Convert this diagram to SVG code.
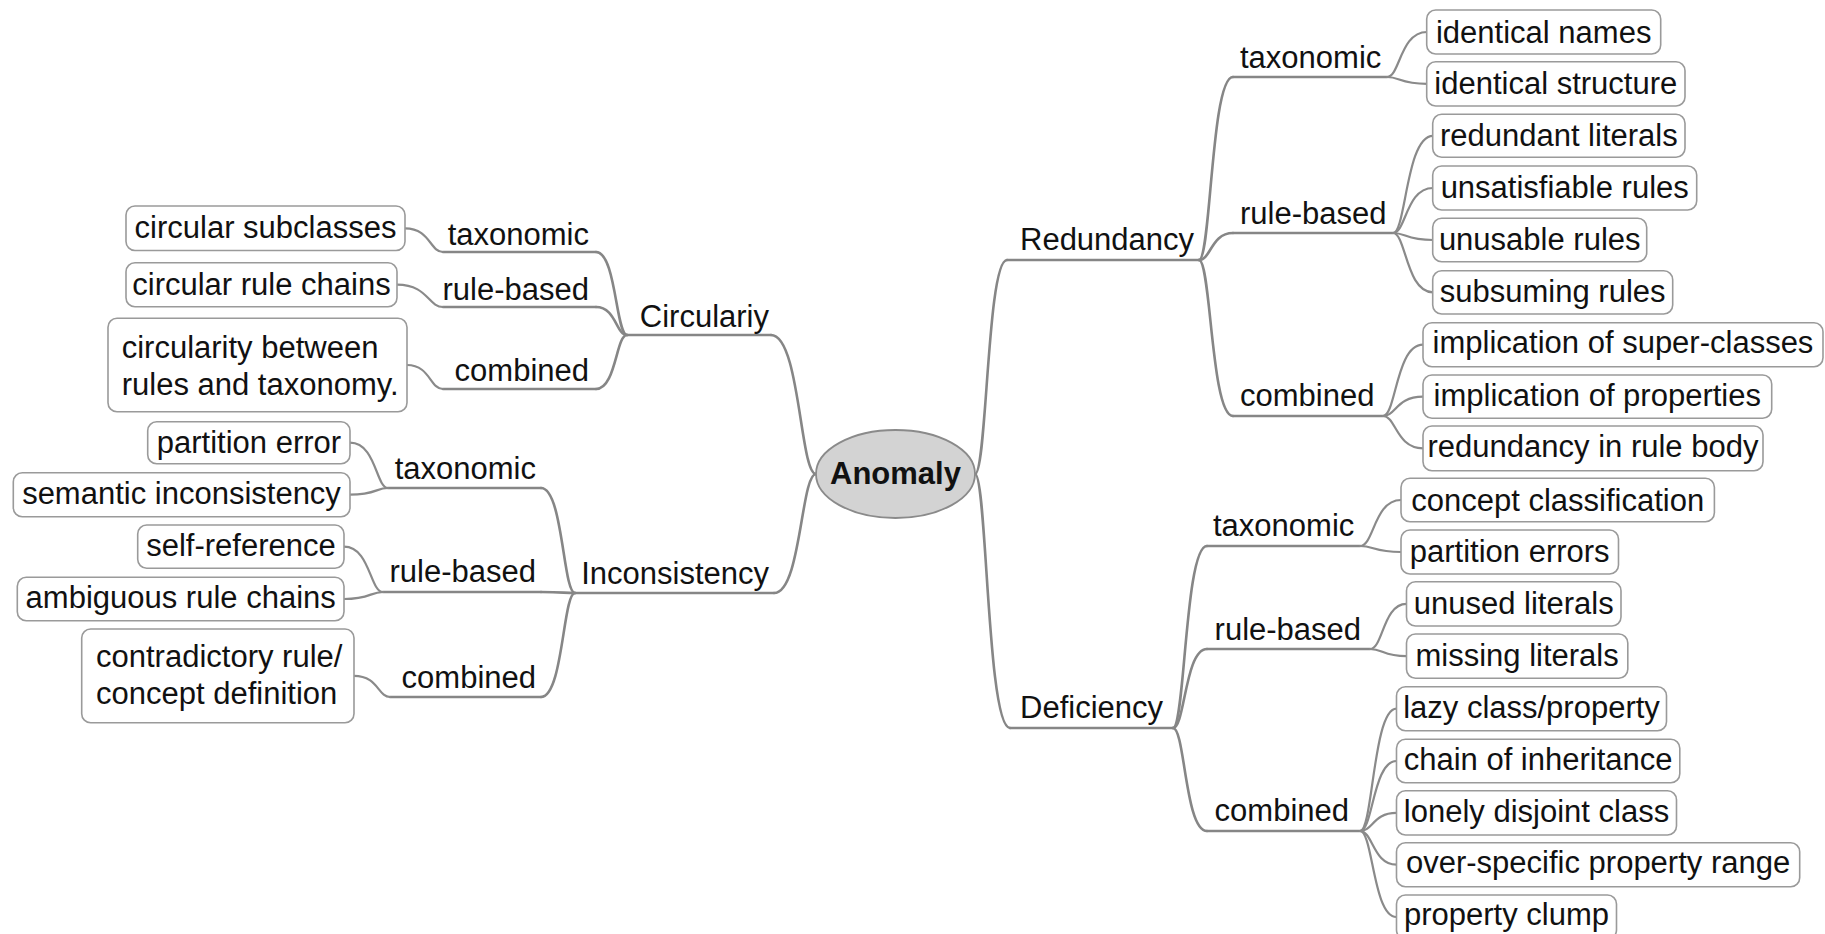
<svg xmlns="http://www.w3.org/2000/svg" width="1825" height="934" viewBox="0 0 1825 934">
<style>
text{font-family:"Liberation Sans",Arial,sans-serif;font-size:31px;fill:#111}
.c{text-anchor:middle}
.e{text-anchor:end}
.box{fill:#fff;stroke:#9a9a9a;stroke-width:1.6}
.ln{fill:none;stroke:#868686;stroke-width:2.6;stroke-linecap:round}
.lk{fill:none;stroke:#8a8a8a;stroke-width:2.2;stroke-linecap:round}
.root{fill:#d3d3d3;stroke:#8a8a8a;stroke-width:1.8}
.b{font-weight:bold}
</style>
<rect width="1825" height="934" fill="#fff"/>
<g id="connectors">
<!-- main -->
<path class="ln" d="M816 474 C800 474,800 335,771 335"/>
<path class="ln" d="M816 474 C801 474,801 593,774 593"/>
<path class="ln" d="M975 474 C987 474,987 260,1007 260"/>
<path class="ln" d="M975 474 C987 474,987 728,1010 728"/>
<!-- level1 underlines -->
<path class="ln" d="M627 335 H771"/>
<path class="ln" d="M575 593 H774"/>
<path class="ln" d="M1007 260 H1199"/>
<path class="ln" d="M1010 728 H1173"/>
<!-- level2 curves -->
<path class="ln" d="M627 335 C616 335,616 252,596 252"/>
<path class="ln" d="M627 335 C616 335,616 307,596 307"/>
<path class="ln" d="M627 335 C616 335,616 389,596 389"/>
<path class="ln" d="M575 593 C563 593,563 488,541 488"/>
<path class="ln" d="M575 593 C563 593,563 592,541 592"/>
<path class="ln" d="M575 593 C563 593,563 697,541 697"/>
<path class="ln" d="M1199 260 C1211 260,1211 77,1233 77"/>
<path class="ln" d="M1199 260 C1211 260,1211 233,1233 233"/>
<path class="ln" d="M1199 260 C1211 260,1211 416,1233 416"/>
<path class="ln" d="M1173 728 C1185 728,1185 546,1207 546"/>
<path class="ln" d="M1173 728 C1185 728,1185 649,1207 649"/>
<path class="ln" d="M1173 728 C1185 728,1185 831,1207 831"/>
<!-- level2 underlines -->
<path class="ln" d="M443 252 H596"/>
<path class="ln" d="M443 307 H596"/>
<path class="ln" d="M443 389 H596"/>
<path class="ln" d="M388 488 H541"/>
<path class="ln" d="M383 592 H541"/>
<path class="ln" d="M390 697 H541"/>
<path class="ln" d="M1233 77 H1387"/>
<path class="ln" d="M1233 233 H1393"/>
<path class="ln" d="M1233 416 H1383"/>
<path class="ln" d="M1207 546 H1360"/>
<path class="ln" d="M1207 649 H1370"/>
<path class="ln" d="M1207 831 H1360"/>
<!-- leaf links left -->
<path class="lk" d="M443 252 C430 252,430 228.3,405 228.3"/>
<path class="lk" d="M443 307 C428 307,428 284.7,397 284.7"/>
<path class="lk" d="M443 389 C430 389,430 365,407 365"/>
<path class="lk" d="M388 488 C376 488,376 442.7,350 442.7"/>
<path class="lk" d="M388 488 C376 488,376 494.7,350 494.7"/>
<path class="lk" d="M383 592 C370 592,370 546.7,344 546.7"/>
<path class="lk" d="M383 592 C370 592,370 599,344 599"/>
<path class="lk" d="M390 697 C378 697,378 675.8,354 675.8"/>
<!-- leaf links right -->
<path class="lk" d="M1387 77 C1400 77,1400 32,1427 32"/>
<path class="lk" d="M1387 77 C1400 77,1400 83.8,1427 83.8"/>
<path class="lk" d="M1393 233 C1406 233,1406 135.8,1433 135.8"/>
<path class="lk" d="M1393 233 C1406 233,1406 188,1433 188"/>
<path class="lk" d="M1393 233 C1406 233,1406 240,1433 240"/>
<path class="lk" d="M1393 233 C1406 233,1406 292.3,1433 292.3"/>
<path class="lk" d="M1383 416 C1396 416,1396 344.7,1423 344.7"/>
<path class="lk" d="M1383 416 C1396 416,1396 396.7,1423 396.7"/>
<path class="lk" d="M1383 416 C1396 416,1396 448.3,1423 448.3"/>
<path class="lk" d="M1360 546 C1374 546,1374 500,1401 500"/>
<path class="lk" d="M1360 546 C1374 546,1374 552,1401 552"/>
<path class="lk" d="M1370 649 C1383 649,1383 603.8,1406.5 603.8"/>
<path class="lk" d="M1370 649 C1383 649,1383 656.2,1406.5 656.2"/>
<path class="lk" d="M1360 831 C1373 831,1373 708.7,1396.5 708.7"/>
<path class="lk" d="M1360 831 C1373 831,1373 761,1396.5 761"/>
<path class="lk" d="M1360 831 C1373 831,1373 812.8,1396.5 812.8"/>
<path class="lk" d="M1360 831 C1373 831,1373 864.7,1396.5 864.7"/>
<path class="lk" d="M1360 831 C1373 831,1373 917,1396.5 917"/>
</g>
<g id="anomaly"><ellipse class="root" cx="895.5" cy="474" rx="79.5" ry="44"/><text class="c b" x="895.5" y="484">Anomaly</text></g>
<!-- left main -->
<g id="circulariy"><text class="e" x="769" y="327">Circulariy</text></g>
<g id="inconsistency"><text class="e" x="769" y="584">Inconsistency</text></g>
<g id="circ-tax"><text class="e" x="589" y="245">taxonomic</text></g>
<g id="circ-rule"><text class="e" x="589" y="300">rule-based</text></g>
<g id="circ-comb"><text class="e" x="589" y="381">combined</text></g>
<g id="inc-tax"><text class="e" x="536" y="479">taxonomic</text></g>
<g id="inc-rule"><text class="e" x="536" y="582">rule-based</text></g>
<g id="inc-comb"><text class="e" x="536" y="688">combined</text></g>
<!-- left leaves -->
<g id="circular-subclasses"><rect class="box" x="126" y="206" width="279" height="44.5" rx="9"/><text class="c" x="265.5" y="238">circular subclasses</text></g>
<g id="circular-rule-chains"><rect class="box" x="126" y="262.7" width="271" height="44" rx="9"/><text class="c" x="261.5" y="294.5">circular rule chains</text></g>
<g id="circularity-between"><rect class="box" x="108" y="318.3" width="299" height="93.4" rx="9"/><text x="121.7" y="358.3">circularity between</text><text x="121.7" y="395">rules and taxonomy.</text></g>
<g id="partition-error"><rect class="box" x="147.7" y="421.7" width="202.3" height="42" rx="9"/><text class="c" x="249" y="453.3">partition error</text></g>
<g id="semantic-inconsistency"><rect class="box" x="13.3" y="472.7" width="336.7" height="44" rx="9"/><text class="c" x="181.5" y="503.5">semantic inconsistency</text></g>
<g id="self-reference"><rect class="box" x="137.7" y="525" width="206.3" height="43.3" rx="9"/><text class="c" x="241" y="556">self-reference</text></g>
<g id="ambiguous-rule-chains"><rect class="box" x="17.3" y="577.3" width="326.7" height="43.4" rx="9"/><text class="c" x="180.7" y="608.3">ambiguous rule chains</text></g>
<g id="contradictory"><rect class="box" x="81.7" y="629" width="272.3" height="93.7" rx="9"/><text x="96" y="666.7">contradictory rule/</text><text x="96" y="704">concept definition</text></g>
<!-- right main -->
<g id="redundancy"><text x="1020" y="250">Redundancy</text></g>
<g id="deficiency"><text x="1020" y="718.3">Deficiency</text></g>
<g id="red-tax"><text x="1240" y="68.3">taxonomic</text></g>
<g id="red-rule"><text x="1240" y="224">rule-based</text></g>
<g id="red-comb"><text x="1240" y="406">combined</text></g>
<g id="def-tax"><text x="1213" y="536">taxonomic</text></g>
<g id="def-rule"><text x="1214.6" y="640">rule-based</text></g>
<g id="def-comb"><text x="1214.6" y="820.7">combined</text></g>
<!-- right leaves -->
<g id="identical-names"><rect class="box" x="1426.7" y="10" width="234" height="44" rx="9"/><text class="c" x="1543.7" y="42.7">identical names</text></g>
<g id="identical-structure"><rect class="box" x="1426.7" y="61.7" width="258.3" height="44.3" rx="9"/><text class="c" x="1555.8" y="94.3">identical structure</text></g>
<g id="redundant-literals"><rect class="box" x="1432.7" y="114.3" width="252.3" height="43" rx="9"/><text class="c" x="1558.8" y="145.7">redundant literals</text></g>
<g id="unsatisfiable-rules"><rect class="box" x="1432.7" y="166" width="264" height="44" rx="9"/><text class="c" x="1564.7" y="198.3">unsatisfiable rules</text></g>
<g id="unusable-rules"><rect class="box" x="1432.7" y="218.3" width="214" height="43.4" rx="9"/><text class="c" x="1539.7" y="250">unusable rules</text></g>
<g id="subsuming-rules"><rect class="box" x="1432.7" y="270.7" width="240" height="43.3" rx="9"/><text class="c" x="1552.7" y="301.7">subsuming rules</text></g>
<g id="implication-super"><rect class="box" x="1423" y="322.7" width="400" height="44" rx="9"/><text class="c" x="1623" y="353.3">implication of super-classes</text></g>
<g id="implication-properties"><rect class="box" x="1423" y="375" width="348.7" height="43.3" rx="9"/><text class="c" x="1597.3" y="406">implication of properties</text></g>
<g id="redundancy-rule-body"><rect class="box" x="1423" y="426" width="340" height="44.7" rx="9"/><text class="c" x="1593" y="456.7">redundancy in rule body</text></g>
<g id="concept-classification"><rect class="box" x="1401" y="478.3" width="313.4" height="43.4" rx="9"/><text class="c" x="1557.7" y="510.7">concept classification</text></g>
<g id="partition-errors"><rect class="box" x="1401" y="530" width="217.5" height="44" rx="9"/><text class="c" x="1509.7" y="561.7">partition errors</text></g>
<g id="unused-literals"><rect class="box" x="1406.5" y="581.7" width="214.5" height="44.3" rx="9"/><text class="c" x="1513.7" y="614.3">unused literals</text></g>
<g id="missing-literals"><rect class="box" x="1406.5" y="634" width="221.3" height="44.3" rx="9"/><text class="c" x="1517.1" y="666">missing literals</text></g>
<g id="lazy-class"><rect class="box" x="1396.5" y="686.7" width="270" height="44" rx="9"/><text class="c" x="1531.5" y="718.3">lazy class/property</text></g>
<g id="chain-inheritance"><rect class="box" x="1396.5" y="739.3" width="283.3" height="43.4" rx="9"/><text class="c" x="1538.1" y="770">chain of inheritance</text></g>
<g id="lonely-disjoint"><rect class="box" x="1396.5" y="790.7" width="280" height="44.3" rx="9"/><text class="c" x="1536.5" y="821.7">lonely disjoint class</text></g>
<g id="over-specific"><rect class="box" x="1396.5" y="842.7" width="403.2" height="44" rx="9"/><text class="c" x="1598.1" y="873.3">over-specific property range</text></g>
<g id="property-clump"><rect class="box" x="1396.5" y="895" width="220" height="44" rx="9"/><text class="c" x="1506.5" y="925">property clump</text></g>
</svg>
